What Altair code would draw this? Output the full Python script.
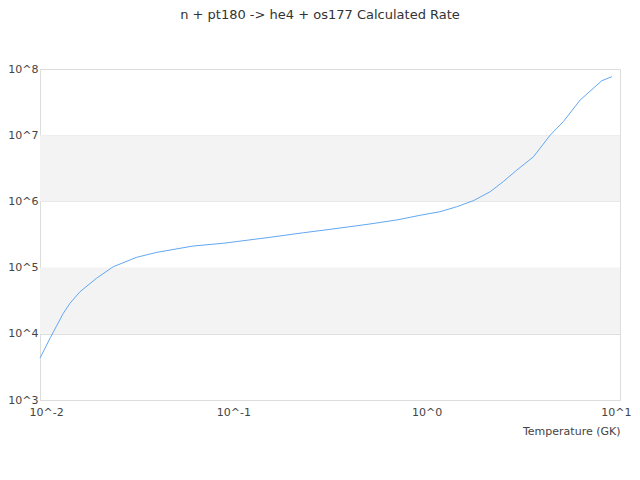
import altair as alt
import pandas as pd

# Temperature (GK) and calculated rate
temperature = [0.01, 0.0113, 0.0132, 0.01429, 0.0161, 0.0196, 0.0239, 0.0316, 0.0402,
               0.0621, 0.0887, 0.155, 0.23, 0.316, 0.509, 0.7, 0.925, 1.17, 1.43, 1.75,
               2.13, 2.49, 2.93, 3.57, 4.35, 5.09, 6.22, 8.05, 9.08]
rate = [4.3e3, 8.7e3, 2.04e4, 2.89e4, 4.32e4, 6.9e4, 1.03e5, 1.43e5, 1.70e5,
        2.12e5, 2.33e5, 2.87e5, 3.36e5, 3.78e5, 4.56e5, 5.24e5, 6.17e5, 6.98e5,
        8.3e5, 1.03e6, 1.40e6, 1.99e6, 2.98e6, 4.73e6, 1.0e7, 1.6e7, 3.4e7, 6.65e7, 7.66e7]

band_lo = [1e4, 1e6]
band_hi = [1e5, 1e7]

x_ticks = [0.01, 0.1, 1, 10]
y_ticks = [1e3, 1e4, 1e5, 1e6, 1e7, 1e8]

df = pd.DataFrame({"T": temperature, "rate": rate})
bands = pd.DataFrame({"lo": band_lo, "hi": band_hi})

label_expr = "'10^' + round(log(datum.value)/LN10)"

xscale = alt.Scale(type="log", domain=[0.01, 10], nice=False)
yscale = alt.Scale(type="log", domain=[1e3, 1e8], nice=False)

band_layer = alt.Chart(bands).mark_rect(color="#f3f3f3").encode(
    y=alt.Y("lo:Q", scale=yscale),
    y2="hi:Q",
    x=alt.value(0),
    x2=alt.value(580),
)

line = alt.Chart(df).mark_line(color="#62a8f2", strokeWidth=1).encode(
    x=alt.X("T:Q", scale=xscale,
            axis=alt.Axis(values=x_ticks, labelExpr=label_expr, title="Temperature (GK)",
                          titleAnchor="end", titleAlign="right", titleFontWeight="normal",
                          titleFontSize=11, titleColor="#444", titlePadding=8,
                          labelFontSize=11, labelColor="#444", labelPadding=6,
                          labelFlush=True, labelFlushOffset=11,
                          ticks=False, domain=False, grid=False,
                          labelFont="DejaVu Sans", titleFont="DejaVu Sans")),
    y=alt.Y("rate:Q", scale=yscale,
            axis=alt.Axis(values=y_ticks, labelExpr=label_expr, title=None,
                          labelFontSize=11, labelColor="#444", labelPadding=2,
                          ticks=False, domain=False, grid=True, gridColor="#dddddd",
                          labelFont="DejaVu Sans", labelFlush=False)),
)

chart = alt.layer(band_layer, line).properties(
    width=580,
    height=331,
    title=alt.TitleParams("n + pt180 -> he4 + os177 Calculated Rate", fontSize=13,
                          fontWeight="normal", color="#333", font="DejaVu Sans",
                          offset=41, dx=-10),
    autosize=alt.AutoSizeParams(type="none"),
    padding={"left": 32, "top": 61, "right": 12, "bottom": 72},
).configure_view(stroke="#dddddd")

chart.save("out.html", embed_options={"renderer": "svg", "actions": False})
